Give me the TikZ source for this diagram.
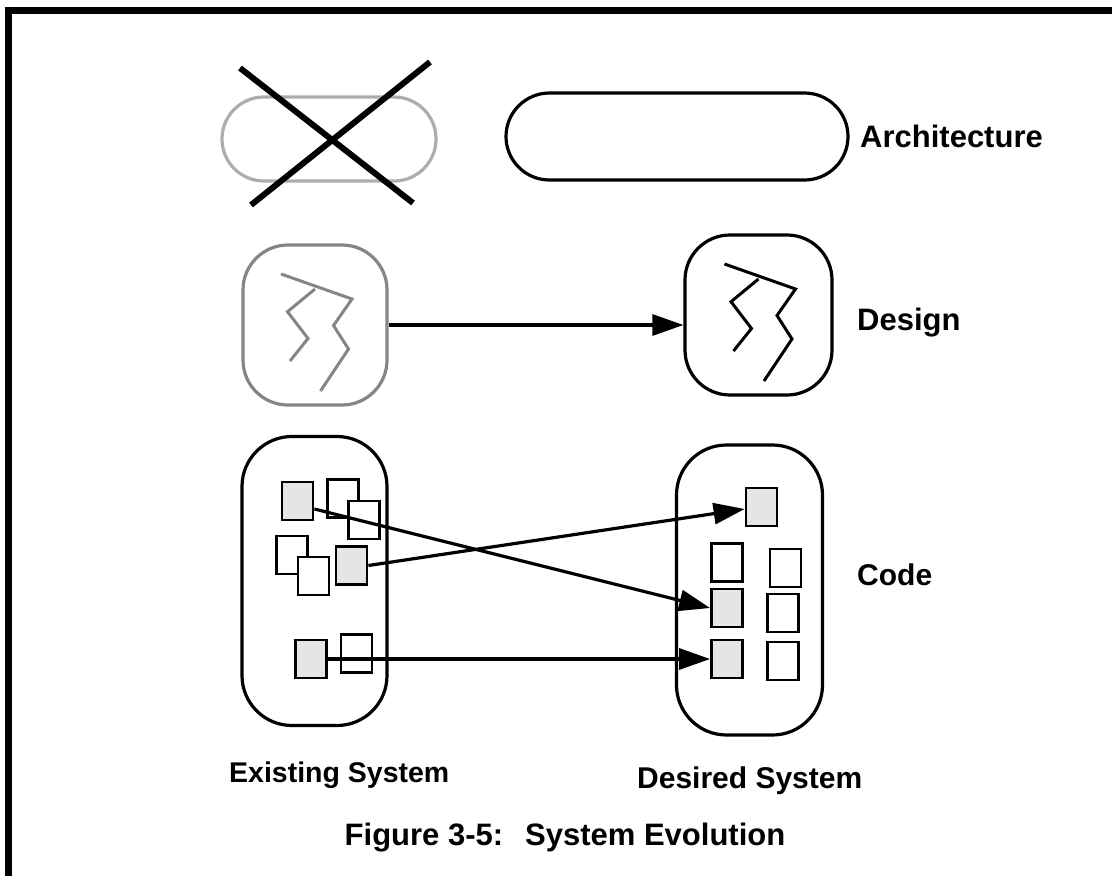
\documentclass[tikz,border=0pt]{standalone}
\usepackage{fontspec}
\setmainfont{Liberation Sans}
\usetikzlibrary{arrows.meta}

\definecolor{pillgray}{HTML}{ADADAD}
\definecolor{oldgray}{HTML}{858585}
\definecolor{boxfill}{HTML}{E5E5E5}

\tikzset{
  lbl/.style={font=\fontsize{#1}{32}\selectfont\bfseries, inner sep=0pt},
  lbl/.default=29,
  pill/.style={draw=black, line width=3.2pt, minimum width=#1, inner sep=0pt},
  unit/.style={draw=black, line width=2.8pt, minimum width=31pt, minimum height=38pt, inner sep=0pt, fill=white},
  grayunit/.style={unit, fill=boxfill},
  flow/.style={line width=3.2pt, -{Triangle[length=31pt, width=21pt]}},
}

\begin{document}
\begin{tikzpicture}[x=1pt, y=-1pt]
                \useasboundingbox (0,0) rectangle (1112,876);
                \draw[line width=7pt] (8,876) -- (8,10.5) -- (1112,10.5);

                % architecture row
                \node[pill=214pt, draw=pillgray, minimum height=84pt, rounded corners=42pt] (archold) at (329, 139) {};
                \node[pill=342pt, minimum height=87pt, rounded corners=43.5pt] (archnew) at (677, 136.5) {};
                \draw[line width=6pt] (240, 68) -- (413, 203);
                \draw[line width=6pt] (251, 205) -- (430, 62);
                \node[lbl=31, anchor=base west] at (860, 147) {Architecture};

                % design row
                \node[pill=144pt, draw=oldgray, minimum height=160pt, rounded corners=45pt] (dsnold) at (315, 325) {};
                \node[pill=147pt, minimum height=160pt, rounded corners=45pt] (dsnnew) at (758.5, 315) {};
                \foreach \b/\c in {dsnold/oldgray, dsnnew/black} {
                    \draw[\c, line width=3pt, shift={(\b.center)}]
                        (-34,-51) -- (37,-26) -- (18.5,0.5) -- (33.5,24) -- (5.5,66)
                        (0,-36) -- (-27.5,-13.3) -- (-7,13.5) -- (-25,36);
                }
                \path[flow] (dsnold.east) edge (dsnold.east -| dsnnew.west);
                \node[lbl=31, anchor=base west] at (857, 330) {Design};

                % code row
                \node[pill=145pt, minimum height=289pt, rounded corners=50pt] (codeold) at (314.5, 581) {};
                \node[pill=146pt, minimum height=290pt, rounded corners=50pt] (codenew) at (749.5, 590) {};

                \node[grayunit] (a) at (297.5, 501) {};
                \node[unit] (b) at (343, 498.5) {};
                \node[unit] (c) at (364, 520) {};
                \node[unit] (d) at (292, 555) {};
                \node[unit] (e) at (313.5, 576) {};
                \node[grayunit] (f) at (351.5, 565.5) {};
                \node[grayunit] (g) at (311, 659) {};
                \node[unit] (h) at (356.5, 653.5) {};

                \node[grayunit] (p) at (761.5, 507) {};
                \node[unit] (q) at (727, 562.5) {};
                \node[unit] (r) at (785.5, 568) {};
                \node[grayunit] (s) at (727, 608) {};
                \node[unit] (t) at (783, 613) {};
                \node[grayunit] (u) at (727, 659) {};
                \node[unit] (v) at (783, 661) {};

                \path[flow] ([yshift=-8pt]a.east) edge (s.west);
                \path[flow] (f.east) edge ([yshift=-2pt]p.west);
                \path[flow] (g.east) edge (u.west);
                \node[lbl=30, anchor=base west] at (857, 585) {Code};

                \node[lbl=28.5, anchor=base west] at (229, 782) {Existing System};
                \node[lbl=30, anchor=base west] at (637, 788) {Desired System};
                \node[lbl=31, anchor=base] at (565, 845) {Figure 3-5:\hspace{22pt}System Evolution};
\end{tikzpicture}
\end{document}
